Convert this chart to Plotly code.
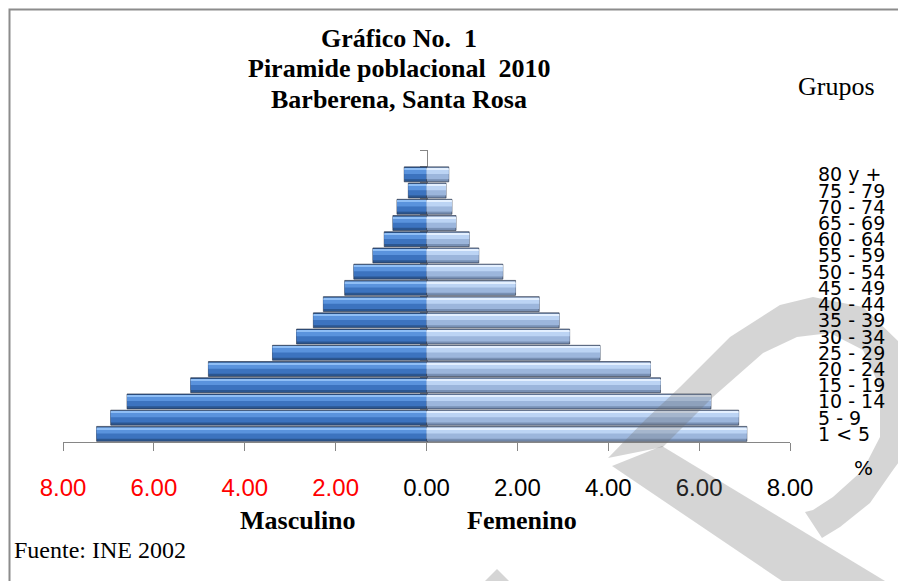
import plotly.graph_objects as go

# ---------------- data (bottom group first) ----------------
age_groups = ["1 < 5", "5 - 9", "10 - 14", "15 - 19", "20 - 24", "25 - 29", "30 - 34",
              "35 - 39", "40 - 44", "45 - 49", "50 - 54", "55 - 59", "60 - 64",
              "65 - 69", "70 - 74", "75 - 79", "80 y +"]
masculino = [7.26, 6.95, 6.59, 5.19, 4.80, 3.39, 2.86, 2.49, 2.27, 1.80, 1.60, 1.18,
             0.93, 0.74, 0.65, 0.40, 0.49]
femenino = [7.05, 6.87, 6.26, 5.15, 4.93, 3.82, 3.15, 2.92, 2.48, 1.96, 1.68, 1.15,
            0.94, 0.65, 0.56, 0.43, 0.49]
x_ticks = [-8, -6, -4, -2, 0, 2, 4, 6, 8]
title_lines = ["Gráfico No.  1", "Piramide poblacional  2010", "Barberena, Santa Rosa"]

# ---------------- geometry helpers (page pixels -> paper) ----------------
W, H = 906, 581
OFF = 8                      # page body margin
PL, PR, PT, PB = 63, 790, 150, 442   # plot area in page pixels
ML = PL - OFF
MT = PT - OFF
MR = W - (PR - OFF)
MB = H - (PB - OFF)
PW, PH = PR - PL, PB - PT


def px(xp):
    return (xp - PL) / PW


def py(yp):
    return (PB - yp) / PH


pos = list(range(len(age_groups)))

fig = go.Figure()

# bevel-like layered bars: (offset, width, male colour, female colour)
layers = [
    (-0.46, 0.92, "#2b5690", "#7890b4"),
    (-0.30, 0.62, "#3c73bf", "#9cb6dc"),
    (0.02, 0.30, "#5a93dd", "#bcd4f4"),
    (0.30, 0.09, "#8fbef5", "#e4f0ff"),
]
for i, (off, wd, cm, cf) in enumerate(layers):
    line = dict(color="rgba(45,55,75,0.85)", width=0.8) if i == 0 else dict(width=0)
    fig.add_trace(go.Bar(y=pos, x=[-v for v in masculino], orientation="h",
                         offset=off, width=wd, marker=dict(color=cm, line=line),
                         showlegend=False, hoverinfo="skip"))
    fig.add_trace(go.Bar(y=pos, x=femenino, orientation="h",
                         offset=off, width=wd, marker=dict(color=cf, line=line),
                         showlegend=False, hoverinfo="skip"))

tick_text = []
for v in x_ticks:
    s = f"{abs(v):.2f}"
    tick_text.append(f'<span style="color:#ff0000">{s}</span>' if v < 0 else s)

axis_grey = "#868686"
fig.update_layout(
    width=W, height=H,
    margin=dict(l=ML, r=MR, t=MT, b=MB),
    paper_bgcolor="white", plot_bgcolor="white",
    barmode="overlay",
    xaxis=dict(range=[-8, 8], tickvals=x_ticks, ticktext=tick_text,
               showgrid=False, zeroline=False, showline=True, linecolor=axis_grey,
               linewidth=1, ticks="outside", ticklen=8, tickcolor=axis_grey,
               tickfont=dict(family="Liberation Sans", size=24, color="#000000"),
               ticklabelstandoff=16, fixedrange=True),
    yaxis=dict(range=[-0.5, len(age_groups) + 0.5], anchor="free", position=0.5,
               showline=True, linecolor=axis_grey, linewidth=1,
               tickvals=[p - 0.5 for p in pos] + [len(age_groups) - 0.5, len(age_groups) + 0.5],
               ticks="outside", ticklen=7, tickcolor=axis_grey,
               showticklabels=False, showgrid=False, zeroline=False,
               layer="below traces", fixedrange=True),
)

ann = []
for p, g in zip(pos, age_groups):
    ann.append(dict(x=px(816), y=p, xref="paper", yref="y", xanchor="left",
                    yanchor="middle", text=g.replace("<", "&lt;"), showarrow=False,
                    font=dict(family="DejaVu Sans", size=19, color="#000000")))

serif = "Liberation Serif"
for k, t in enumerate(title_lines):
    ann.append(dict(x=px(399), y=py(39 + 30 * k), xref="paper", yref="paper",
                    xanchor="center", yanchor="middle", text=f"<b>{t}</b>",
                    showarrow=False, font=dict(family=serif, size=26, color="#000000")))
ann.append(dict(x=px(836), y=py(87), xref="paper", yref="paper", xanchor="center",
                yanchor="middle", text="Grupos", showarrow=False,
                font=dict(family=serif, size=26, color="#000000")))
ann.append(dict(x=px(298), y=py(520), xref="paper", yref="paper", xanchor="center",
                yanchor="middle", text="<b>Masculino</b>", showarrow=False,
                font=dict(family=serif, size=26, color="#000000")))
ann.append(dict(x=px(522), y=py(520), xref="paper", yref="paper", xanchor="center",
                yanchor="middle", text="<b>Femenino</b>", showarrow=False,
                font=dict(family=serif, size=26, color="#000000")))
ann.append(dict(x=px(12), y=py(550), xref="paper", yref="paper", xanchor="left",
                yanchor="middle", text="Fuente: INE 2002", showarrow=False,
                font=dict(family=serif, size=24, color="#000000")))
ann.append(dict(x=px(863), y=py(468), xref="paper", yref="paper", xanchor="center",
                yanchor="middle", text="%", showarrow=False,
                font=dict(family="DejaVu Sans", size=20, color="#000000")))
fig.update_layout(annotations=ann)


def path(points):
    return "M " + " L ".join(f"{px(a):.4f},{py(b):.4f}" for a, b in points) + " Z"


shapes = [
    # outer frame (as close to the page edge as the figure allows)
    dict(type="rect", xref="paper", yref="paper", x0=px(OFF + 1.5), y0=py(OFF + 1.5),
         x1=px(960), y1=py(640), line=dict(color="#8c8c8c", width=2), layer="below"),
]
wm = "rgba(110,110,110,0.29)"
bowl = [(608, 458), (645, 420), (680, 387), (730, 337), (780, 305), (813, 297),
        (863, 307), (900, 343), (915, 380), (915, 440), (893, 470), (870, 503),
        (840, 527), (822, 538), (805, 512), (813, 510), (833, 497), (863, 470),
        (880, 437), (880, 387), (863, 350), (830, 333), (797, 337), (763, 353),
        (713, 397), (663, 447)]
tail = [(612, 466), (662, 446), (885, 581), (782, 581)]
tri = [(485, 581), (497, 569), (509, 581)]
for pts in (bowl, tail, tri):
    shapes.append(dict(type="path", xref="paper", yref="paper", path=path(pts),
                       fillcolor=wm, line=dict(width=0), layer="above"))
fig.update_layout(shapes=shapes)

fig.write_html("out.html")
